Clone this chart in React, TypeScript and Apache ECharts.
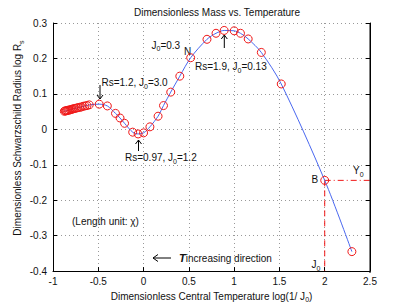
import React, { useEffect, useRef } from "react";
import * as echarts from "echarts";

const clusterX = [-0.875, -0.865, -0.855, -0.845, -0.835, -0.825, -0.812, -0.8, -0.787, -0.773, -0.758, -0.742, -0.725, -0.707, -0.688, -0.668, -0.647, -0.625, -0.6];
const clusterY = [0.051, 0.052, 0.052, 0.053, 0.054, 0.054, 0.055, 0.056, 0.057, 0.058, 0.059, 0.06, 0.061, 0.062, 0.063, 0.065, 0.066, 0.067, 0.069];
const mainX = [-0.49, -0.4, -0.31, -0.26, -0.21, -0.12, -0.06, 0.0, 0.07, 0.16, 0.22, 0.3, 0.4, 0.52, 0.7, 0.8, 0.89, 1.0, 1.07, 1.155, 1.3, 1.52, 2.0, 2.3];
const mainY = [0.071, 0.066, 0.045, 0.032, 0.017, -0.008, -0.013, -0.01, 0.007, 0.037, 0.067, 0.105, 0.15, 0.202, 0.254, 0.271, 0.279, 0.278, 0.271, 0.255, 0.217, 0.128, -0.144, -0.345];
const pointB = [2.0, -0.144];
const xTicks = [-1, -0.5, 0, 0.5, 1, 1.5, 2, 2.5];
const yTicks = [-0.4, -0.3, -0.2, -0.1, 0, 0.1, 0.2, 0.3];

const FONT = "Liberation Sans, Arial, Helvetica, sans-serif";
const RED = "#f01818";
const BLUE = "#4a68f0";

const sub = { fontSize: 7, padding: [7, 0, 0, 0], fontFamily: FONT, color: "#111" };

function txt(x: number, y: number, text: string, extra: any = {}, rot = 0) {
  return {
    type: "text",
    x,
    y,
    rotation: rot,
    style: {
      text,
      fill: "#111",
      fontSize: 10,
      fontFamily: FONT,
      align: "left",
      verticalAlign: "middle",
      rich: { s: sub, b: { fontSize: 11, fontWeight: "bold", fontStyle: "italic", fontFamily: FONT, fill: "#111" } },
      ...extra,
    },
  };
}

function arrowV(x: number, headY: number, tailY: number) {
  const d = headY < tailY ? 1 : -1;
  return [
    { type: "line", shape: { x1: x, y1: headY, x2: x, y2: tailY }, style: { stroke: "#000", lineWidth: 1 } },
    { type: "polyline", shape: { points: [[x - 3, headY + 4 * d], [x, headY], [x + 3, headY + 4 * d]] }, style: { stroke: "#000", lineWidth: 1, fill: "none" } },
  ];
}

export default function App() {
  const ref = useRef<HTMLDivElement>(null);
  useEffect(() => {
    const chart = echarts.init(ref.current!, null, { renderer: "svg" });
    const allData = clusterX.map((x, i) => [x, clusterY[i]]).concat(mainX.map((x, i) => [x, mainY[i]]));
    const axisCommon = {
      axisLine: { show: true, onZero: false, lineStyle: { color: "#000", width: 1 } },
      axisTick: { show: true, inside: true, length: 4, lineStyle: { color: "#000" } },
    };
    chart.setOption({
      animation: false,
      backgroundColor: "#fff",
      title: {
        text: "Dimensionless Mass vs. Temperature",
        left: 212,
        textAlign: "center",
        top: 2,
        textStyle: { fontSize: 10, fontWeight: "normal", fontFamily: FONT, color: "#111" },
      },
      grid: { left: 53, right: 39, top: 23, bottom: 35, containLabel: false },
      xAxis: [
        {
          type: "value",
          min: -1,
          max: 2.5,
          interval: 0.5,
          position: "bottom",
          ...axisCommon,
          axisLabel: { fontSize: 10, fontFamily: FONT, color: "#111", margin: 5, formatter: (v: number) => (xTicks.includes(v) ? String(v) : "") },
          splitLine: { show: true, lineStyle: { color: "#999", type: [1, 3], width: 1 } },
          name: "Dimensionless Central Temperature log(1/ J{s|0})",
          nameLocation: "middle",
          nameGap: 16,
          nameTextStyle: { fontSize: 10, fontFamily: FONT, color: "#111", rich: { s: sub } },
        },
      ],
      yAxis: [
        {
          type: "value",
          min: -0.4,
          max: 0.3,
          interval: 0.1,
          position: "left",
          ...axisCommon,
          axisLabel: {
            fontSize: 10,
            fontFamily: FONT,
            color: "#111",
            margin: 6,
            formatter: (v: number) => {
              const r = Math.round(v * 10) / 10;
              return yTicks.includes(r) ? String(r) : "";
            },
          },
          splitLine: { show: true, lineStyle: { color: "#999", type: [1, 3], width: 1 } },
        },
        {
          type: "value",
          min: -0.4,
          max: 0.3,
          interval: 0.1,
          position: "right",
          show: true,
          ...axisCommon,
          axisLabel: { show: false },
          splitLine: { show: false },
        },
      ],
      series: [
        {
          type: "line",
          data: allData,
          smooth: 0.3,
          symbol: "circle",
          symbolSize: 8,
          showSymbol: true,
          showAllSymbol: true,
          lineStyle: { color: BLUE, width: 1 },
          itemStyle: { color: "rgba(0,0,0,0)", borderColor: RED, borderWidth: 1 },
          z: 3,
        },
        {
          type: "line",
          data: [pointB, [pointB[0], -0.4]],
          symbol: "none",
          lineStyle: { color: RED, width: 1, type: [6, 4] },
          z: 2,
        },
        {
          type: "line",
          data: [pointB, [2.5, pointB[1]]],
          symbol: "none",
          lineStyle: { color: RED, width: 1, type: [6, 3, 1, 3] },
          z: 2,
        },
      ],
      graphic: [
        {
          type: "line",
          shape: { x1: 370, y1: 23, x2: 370, y2: 273 },
          style: { stroke: "#000", lineWidth: 1 },
          z: 10,
          silent: true,
        },
        txt(17.5, 138, "Dimensionless Schwarzschild Radius log R{s|s}", { align: "center" }, Math.PI / 2),
        txt(101.5, 82.5, "Rs=1.2, J{s|0}=3.0"),
        ...arrowV(100, 99, 85),
        txt(125, 157.5, "Rs=0.97, J{s|0}=1.2"),
        ...arrowV(138.5, 140, 151),
        txt(151.5, 45, "J{s|0}=0.3"),
        txt(184, 51.5, "N"),
        txt(195, 66.5, "Rs=1.9, J{s|0}=0.13"),
        ...arrowV(224.3, 35, 48),
        txt(311.5, 179.5, "B"),
        txt(353, 170.5, "Y{s|0}"),
        txt(311.5, 264.5, "J{s|0}"),
        txt(72, 221, "(Length unit: χ)"),
        { type: "line", shape: { x1: 153, y1: 258, x2: 171, y2: 258 }, style: { stroke: "#000", lineWidth: 1 } },
        { type: "polyline", shape: { points: [[158, 254.5], [153, 258], [158, 261.5]] }, style: { stroke: "#000", lineWidth: 1, fill: "none" } },
        txt(179, 258, "{b|T}increasing direction"),
      ],
    });
    return () => chart.dispose();
  }, []);
  return <div ref={ref} style={{ position: "fixed", left: 0, top: 0, width: 409, height: 308, background: "#fff" }} />;
}
